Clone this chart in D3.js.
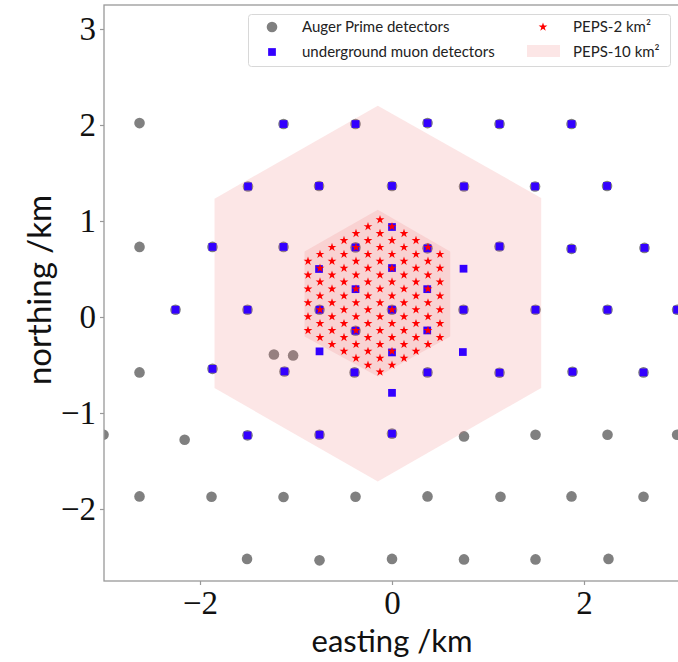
<!DOCTYPE html>
<html>
<head>
<meta charset="utf-8">
<script src="https://cdn.jsdelivr.net/npm/d3@7"></script>
<style>
  body { margin: 0; background: #fff; }
  svg { display: block; }
</style>
</head>
<body>
<script>
// Data (km) //////////////////////////////////////////////////////////////

const xDomain = [-3, 3];
const yDomain = [-2.75, 3.25];
const xTicks = [-2, 0, 2];
const yTicks = [-2, -1, 0, 1, 2, 3];

// Auger Prime surface detectors (750 m infill)
const augerStations = [
  [-2.63, 2.02], [-1.13, 2.01], [-0.38, 2.01], [0.37, 2.02], [1.12, 2.01], [1.87, 2.01],
  [-1.50, 1.36], [-0.76, 1.365], [0.0, 1.365], [0.75, 1.36], [1.49, 1.36], [2.24, 1.365],
  [-2.63, 0.73], [-1.87, 0.73], [-1.13, 0.73], [-0.38, 0.725], [0.37, 0.715], [1.12, 0.735], [1.87, 0.71], [2.63, 0.72],
  [-2.255, 0.076], [-1.505, 0.076], [-0.755, 0.076], [0.0, 0.076], [0.745, 0.076], [1.495, 0.076], [2.245, 0.076], [2.97, 0.076],
  [-2.63, -0.577], [-1.87, -0.54], [-1.12, -0.567], [-0.39, -0.577], [0.37, -0.577], [1.12, -0.58], [1.88, -0.57], [2.62, -0.577],
  [-3.005, -1.226], [-2.16, -1.278], [-1.505, -1.233], [-0.755, -1.226], [0.0, -1.215], [0.75, -1.244], [1.495, -1.226], [2.245, -1.226], [2.97, -1.226],
  [-2.63, -1.869], [-1.88, -1.872], [-1.13, -1.875], [-0.38, -1.872], [0.37, -1.869], [1.13, -1.872], [1.87, -1.869], [2.62, -1.872],
  [-1.51, -2.52], [-0.755, -2.535], [0.0, -2.52], [0.75, -2.525], [1.495, -2.525], [2.255, -2.52],
  [-1.23, -0.39], [-1.03, -0.40], [-0.38, -0.143],
];

// underground muon detectors
const muonStations = [
  [-1.13, 2.01], [-0.38, 2.01], [0.37, 2.02], [1.12, 2.01], [1.87, 2.01],
  [-1.50, 1.36], [-0.76, 1.365], [0.0, 1.365], [0.75, 1.36], [1.49, 1.36], [2.24, 1.365],
  [-1.87, 0.73], [-1.13, 0.73], [-0.38, 0.725], [0.37, 0.715], [1.12, 0.735], [1.87, 0.71], [2.63, 0.72],
  [-2.255, 0.076], [-1.505, 0.076], [-0.755, 0.076], [0.0, 0.076], [0.745, 0.076], [1.495, 0.076], [2.245, 0.076], [2.97, 0.076],
  [-1.87, -0.54], [-1.12, -0.567], [-0.39, -0.577], [0.37, -0.577], [1.12, -0.58], [1.88, -0.57], [2.62, -0.577],
  [-1.505, -1.233], [-0.755, -1.226], [0.0, -1.215],
  [0.0, 0.9375], [-0.76, 0.50], [0.0, 0.51], [0.745, 0.503],
  [-0.38, 0.29], [0.367, 0.29], [-0.38, -0.143], [0.367, -0.14],
  [-0.755, -0.358], [0.0, -0.369], [0.738, -0.365], [0.0, -0.79],
];

// PEPS-2 km² stations, one list of northings per easting column
const pepsColumnsX = [-0.875, -0.75, -0.625, -0.5, -0.375, -0.25, -0.125, 0, 0.125, 0.25, 0.375, 0.5];
const pepsColumnsY = [
  [0.581, 0.437, 0.293, 0.148, 0.004, -0.140],
  [0.653, 0.509, 0.365, 0.220, 0.076, -0.068, -0.213],
  [0.726, 0.581, 0.437, 0.293, 0.148, 0.004, -0.140, -0.285],
  [0.798, 0.653, 0.509, 0.365, 0.220, 0.076, -0.068, -0.213, -0.357],
  [0.870, 0.726, 0.581, 0.437, 0.293, 0.148, 0.004, -0.140, -0.285, -0.429],
  [0.942, 0.798, 0.653, 0.509, 0.365, 0.220, 0.076, -0.068, -0.213, -0.357, -0.501],
  [1.014, 0.870, 0.726, 0.581, 0.437, 0.293, 0.148, 0.004, -0.140, -0.285, -0.429, -0.573],
  [0.942, 0.798, 0.653, 0.509, 0.365, 0.220, 0.076, -0.068, -0.213, -0.357, -0.501],
  [0.870, 0.726, 0.581, 0.437, 0.293, 0.148, 0.004, -0.140, -0.285, -0.429],
  [0.798, 0.653, 0.509, 0.365, 0.220, 0.076, -0.068, -0.213, -0.357],
  [0.726, 0.581, 0.437, 0.293, 0.148, 0.004, -0.140, -0.285],
  [0.653, 0.509, 0.365, 0.220, 0.076, -0.068, -0.213],
];

// hexagon outlines
const peps10Hexagon = [[-0.148, 2.2], [1.554, 1.24], [1.554, -0.74], [-0.148, -1.713], [-1.849, -0.74], [-1.849, 1.232]];
const peps2Hexagon = [[-0.148, 1.118], [0.606, 0.683], [0.606, -0.202], [-0.148, -0.619], [-0.911, -0.202], [-0.911, 0.683]];

const legendLabels = ["Auger Prime detectors", "underground muon detectors", "PEPS-2 km²", "PEPS-10 km²"];

// Layout ////////////////////////////////////////////////////////////////

const width = 678;
const height = 662;
const plotLeft = 104;
const plotTop = 5;
const plotSize = 576;

const grey = "#808080";
const blue = "#3300ff";
const red = "#ff0000";
const pink = "#f08080";
const starSize = 24;
const squareSize = 60;

const svg = d3
  .select("body")
  .append("svg")
  .attr("width", width)
  .attr("height", height);

const x = d3.scaleLinear().domain(xDomain).range([plotLeft, plotLeft + plotSize]);
const y = d3.scaleLinear().domain(yDomain).range([plotTop + plotSize, plotTop]);

svg
  .append("defs")
  .append("clipPath")
  .attr("id", "plot-clip")
  .append("rect")
  .attr("x", plotLeft)
  .attr("y", plotTop)
  .attr("width", plotSize)
  .attr("height", plotSize);

const plot = svg.append("g").attr("clip-path", "url(#plot-clip)");

drawAuger(plot.append("g"));
drawHexagon(plot.append("g"), peps10Hexagon);
drawHexagon(plot.append("g"), peps2Hexagon);
drawMuons(plot.append("g"));
drawPeps(plot.append("g"));

drawAxes(svg);
drawLegend(svg.append("g"));

// Marks /////////////////////////////////////////////////////////////////

function drawAuger(root) {
  root
    .selectAll("circle")
    .data(augerStations)
    .join("circle")
    .attr("cx", (d) => x(d[0]))
    .attr("cy", (d) => y(d[1]))
    .attr("r", 5.3)
    .attr("fill", grey);
}

function drawHexagon(root, corners) {
  root
    .append("path")
    .attr("d", d3.line().x((d) => x(d[0])).y((d) => y(d[1])).curve(d3.curveLinearClosed)(corners))
    .attr("fill", pink)
    .attr("fill-opacity", 0.2);
}

function drawMuons(root) {
  const square = d3.symbol(d3.symbolSquare, squareSize);
  root
    .selectAll("path")
    .data(muonStations)
    .join("path")
    .attr("transform", (d) => `translate(${x(d[0])},${y(d[1])})`)
    .attr("d", square)
    .attr("fill", blue);
}

function drawPeps(root) {
  const star = d3.symbol(d3.symbolStar, starSize);
  const stations = pepsColumnsX.flatMap((cx, i) => pepsColumnsY[i].map((cy) => [cx, cy]));
  root
    .selectAll("path")
    .data(stations)
    .join("path")
    .attr("transform", (d) => `translate(${x(d[0])},${y(d[1])})`)
    .attr("d", star)
    .attr("fill", red);
}

// Axes //////////////////////////////////////////////////////////////////

function drawAxes(root) {
  const format = d3.format("d");

  const xAxis = root
    .append("g")
    .attr("transform", `translate(0, ${plotTop + plotSize})`)
    .call(d3.axisBottom(x).tickValues(xTicks).tickFormat(format).tickSize(4).tickPadding(6));

  const yAxis = root
    .append("g")
    .attr("transform", `translate(${plotLeft}, 0)`)
    .call(d3.axisLeft(y).tickValues(yTicks).tickFormat(format).tickSize(4).tickPadding(4));

  [xAxis, yAxis].forEach((axis) => {
    axis.select(".domain").remove();
    axis.selectAll(".tick line").attr("stroke", "#999").attr("stroke-width", 1.2);
    axis
      .selectAll(".tick text")
      .attr("fill", "#111")
      .style("font-family", "'Liberation Serif', serif")
      .style("font-size", "33px");
  });

  root
    .append("rect")
    .attr("x", plotLeft)
    .attr("y", plotTop)
    .attr("width", plotSize)
    .attr("height", plotSize)
    .attr("fill", "none")
    .attr("stroke", "#999")
    .attr("stroke-width", 1.3);

  root
    .append("text")
    .text("easting /km")
    .attr("x", 392)
    .attr("y", 652)
    .attr("text-anchor", "middle")
    .attr("fill", "#111")
    .style("font-family", "Lato, sans-serif")
    .style("font-size", "31px");

  root
    .append("text")
    .text("northing /km")
    .attr("transform", "translate(51, 290) rotate(-90)")
    .attr("text-anchor", "middle")
    .attr("fill", "#111")
    .style("font-family", "Lato, sans-serif")
    .style("font-size", "33px");
}

// Legend ////////////////////////////////////////////////////////////////

function drawLegend(root) {
  root
    .append("rect")
    .attr("x", 248.5)
    .attr("y", 14.5)
    .attr("width", 422)
    .attr("height", 52)
    .attr("rx", 3)
    .attr("fill", "#fff")
    .attr("fill-opacity", 0.8)
    .attr("stroke", "#d8d8d8");

  root.append("circle").attr("cx", 272).attr("cy", 27).attr("r", 5.3).attr("fill", grey);
  root
    .append("path")
    .attr("transform", "translate(272, 52)")
    .attr("d", d3.symbol(d3.symbolSquare, squareSize))
    .attr("fill", blue);
  root
    .append("path")
    .attr("transform", "translate(543, 27)")
    .attr("d", d3.symbol(d3.symbolStar, starSize))
    .attr("fill", red);
  root
    .append("rect")
    .attr("x", 527)
    .attr("y", 45)
    .attr("width", 33)
    .attr("height", 12)
    .attr("fill", pink)
    .attr("fill-opacity", 0.2);

  const positions = [[302, 27], [302, 52], [573, 27], [573, 52]];
  root
    .selectAll("text")
    .data(legendLabels)
    .join("text")
    .text((d) => d)
    .attr("x", (_, i) => positions[i][0])
    .attr("y", (_, i) => positions[i][1])
    .attr("dy", "0.35em")
    .attr("fill", "#222")
    .style("font-family", "Lato, sans-serif")
    .style("font-size", "15px");
}
</script>
</body>
</html>
